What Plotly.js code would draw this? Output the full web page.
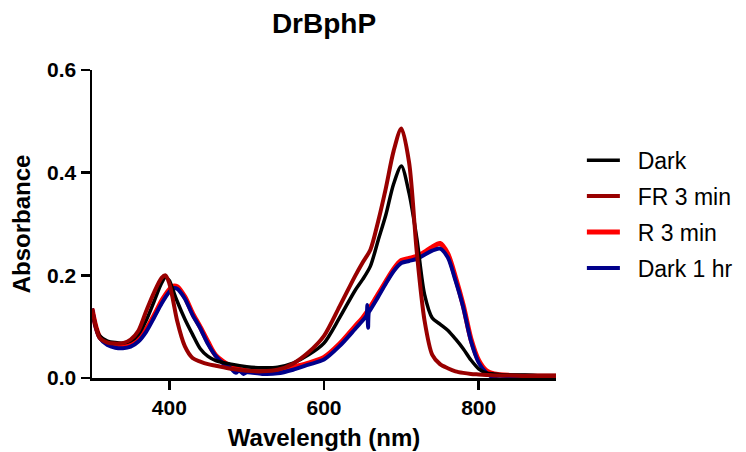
<!DOCTYPE html>
<html>
<head>
<meta charset="utf-8">
<script src="https://cdn.plot.ly/plotly-3.0.1.min.js"></script>
<style>html,body{margin:0;padding:0;background:#fff;}#chart{width:746px;height:452px;}</style>
</head>
<body>
<div id="chart"></div>
<script>
// Wavelength grid shared by Dark, FR 3 min and R 3 min (nm)
const wavelength = [300,305,310,320,330,340,350,360,370,380,390,395,400,405,410,420,430,440,450,460,480,500,520,540,560,580,600,620,640,650,660,670,680,690,700,710,720,730,740,750,760,770,780,790,800,810,820,840,860,880,900];

const darkAbs = [0.135,0.100,0.082,0.072,0.069,0.068,0.072,0.085,0.112,0.148,0.185,0.196,0.190,0.170,0.150,0.115,0.085,0.057,0.042,0.034,0.027,0.022,0.020,0.021,0.029,0.045,0.068,0.117,0.170,0.192,0.218,0.268,0.318,0.378,0.413,0.360,0.272,0.163,0.117,0.105,0.093,0.076,0.057,0.035,0.018,0.010,0.008,0.006,0.006,0.005,0.005];

const fr3Abs = [0.135,0.100,0.078,0.069,0.067,0.068,0.075,0.092,0.130,0.166,0.195,0.200,0.184,0.150,0.112,0.062,0.039,0.032,0.027,0.024,0.018,0.014,0.013,0.016,0.028,0.050,0.082,0.139,0.198,0.225,0.250,0.305,0.370,0.442,0.486,0.420,0.245,0.112,0.045,0.027,0.019,0.013,0.010,0.008,0.007,0.006,0.005,0.005,0.004,0.004,0.004];

const r3Abs = [0.135,0.100,0.080,0.068,0.063,0.062,0.065,0.075,0.095,0.121,0.150,0.162,0.172,0.179,0.178,0.158,0.126,0.099,0.070,0.044,0.022,0.014,0.012,0.013,0.021,0.029,0.040,0.066,0.100,0.117,0.138,0.163,0.188,0.212,0.229,0.233,0.237,0.245,0.255,0.262,0.242,0.196,0.142,0.076,0.034,0.014,0.008,0.005,0.004,0.004,0.004];

// Dark 1 hr has its own sampling (slightly noisy points and a spike near 656 nm)
const wavelengthDark1h = [300,305,310,320,330,340,350,360,370,380,390,400,405,410,420,430,440,450,460,470,480,486,490,496,500,520,540,560,580,600,620,640,650,655,656,657,658,660,670,680,690,700,710,720,730,740,750,760,770,780,790,800,810,818,822,840,860,880,900];
const dark1hAbs = [0.135,0.098,0.078,0.064,0.059,0.058,0.061,0.071,0.090,0.117,0.145,0.168,0.175,0.174,0.155,0.123,0.097,0.066,0.043,0.028,0.018,0.010,0.015,0.008,0.011,0.008,0.009,0.016,0.026,0.036,0.062,0.095,0.112,0.122,0.142,0.098,0.128,0.133,0.158,0.184,0.208,0.224,0.228,0.232,0.240,0.248,0.252,0.235,0.190,0.138,0.072,0.030,0.010,0.002,0.004,0.004,0.003,0.003,0.003];

const seriesNames = ["Dark","FR 3 min","R 3 min","Dark 1 hr"];
const seriesColors = ["#000000","#990000","#ff0000","#00008b"];

const font = "Liberation Sans, Arial, sans-serif";
const pad = "\u00a0\u00a0";

function mk(x, y, i, width){
  return {type:'scatter', mode:'lines', x:x, y:y, name: pad + seriesNames[i], legendrank: i+1, legendgroup:'g'+i,
          line:{color:seriesColors[i], width:width, shape:'spline', smoothing:0.8}};
}

// drawing order: R 3 min, Dark 1 hr, Dark, FR 3 min (on top)
const traces = [
  mk(wavelength, r3Abs, 2, 5),
  mk(wavelengthDark1h, dark1hAbs, 3, 4),
  mk(wavelength, darkAbs, 0, 3.5),
  mk(wavelength, fr3Abs, 1, 4)
];

const layout = {
  width: 746, height: 452,
  margin: {l:92, r:190, t:70, b:74},
  paper_bgcolor:'#fff', plot_bgcolor:'#fff',
  font: {family: font, color:'#000'},
  title: {text:'DrBphP', font:{family:font, size:28, weight:'bold', color:'#000'}, xref:'paper', x:0.5, xanchor:'center', yref:'container', y:0.949, yanchor:'middle'},
  xaxis: {
    range:[300,900], tickvals:[400,600,800], ticks:'outside', ticklen:9, tickwidth:2.5, tickcolor:'#000',
    showline:true, linewidth:2.5, linecolor:'#000', showgrid:false, zeroline:false,
    tickfont:{family:font, size:21, weight:'bold'},
    title:{text:'Wavelength (nm)', font:{family:font, size:24, weight:'bold'}, standoff:12}
  },
  yaxis: {
    range:[0,0.6], tickvals:[0,0.2,0.4,0.6], tickformat:'.1f', ticks:'outside', ticklen:9, tickwidth:2.5, tickcolor:'#000',
    showline:true, linewidth:2.5, linecolor:'#000', showgrid:false, zeroline:false,
    tickfont:{family:font, size:21, weight:'bold'},
    title:{text:'Absorbance', font:{family:font, size:24, weight:'bold'}, standoff:10}
  },
  showlegend:true,
  legend: {xref:'container', yref:'container', x:0.780, xanchor:'left', y:0.693, yanchor:'top', font:{family:font, size:23, color:'#000'},
           traceorder:'grouped', itemwidth:33, tracegroupgap:3, bgcolor:'rgba(0,0,0,0)'}
};

Plotly.newPlot('chart', traces, layout, {displayModeBar:false, staticPlot:true});
</script>
</body>
</html>
